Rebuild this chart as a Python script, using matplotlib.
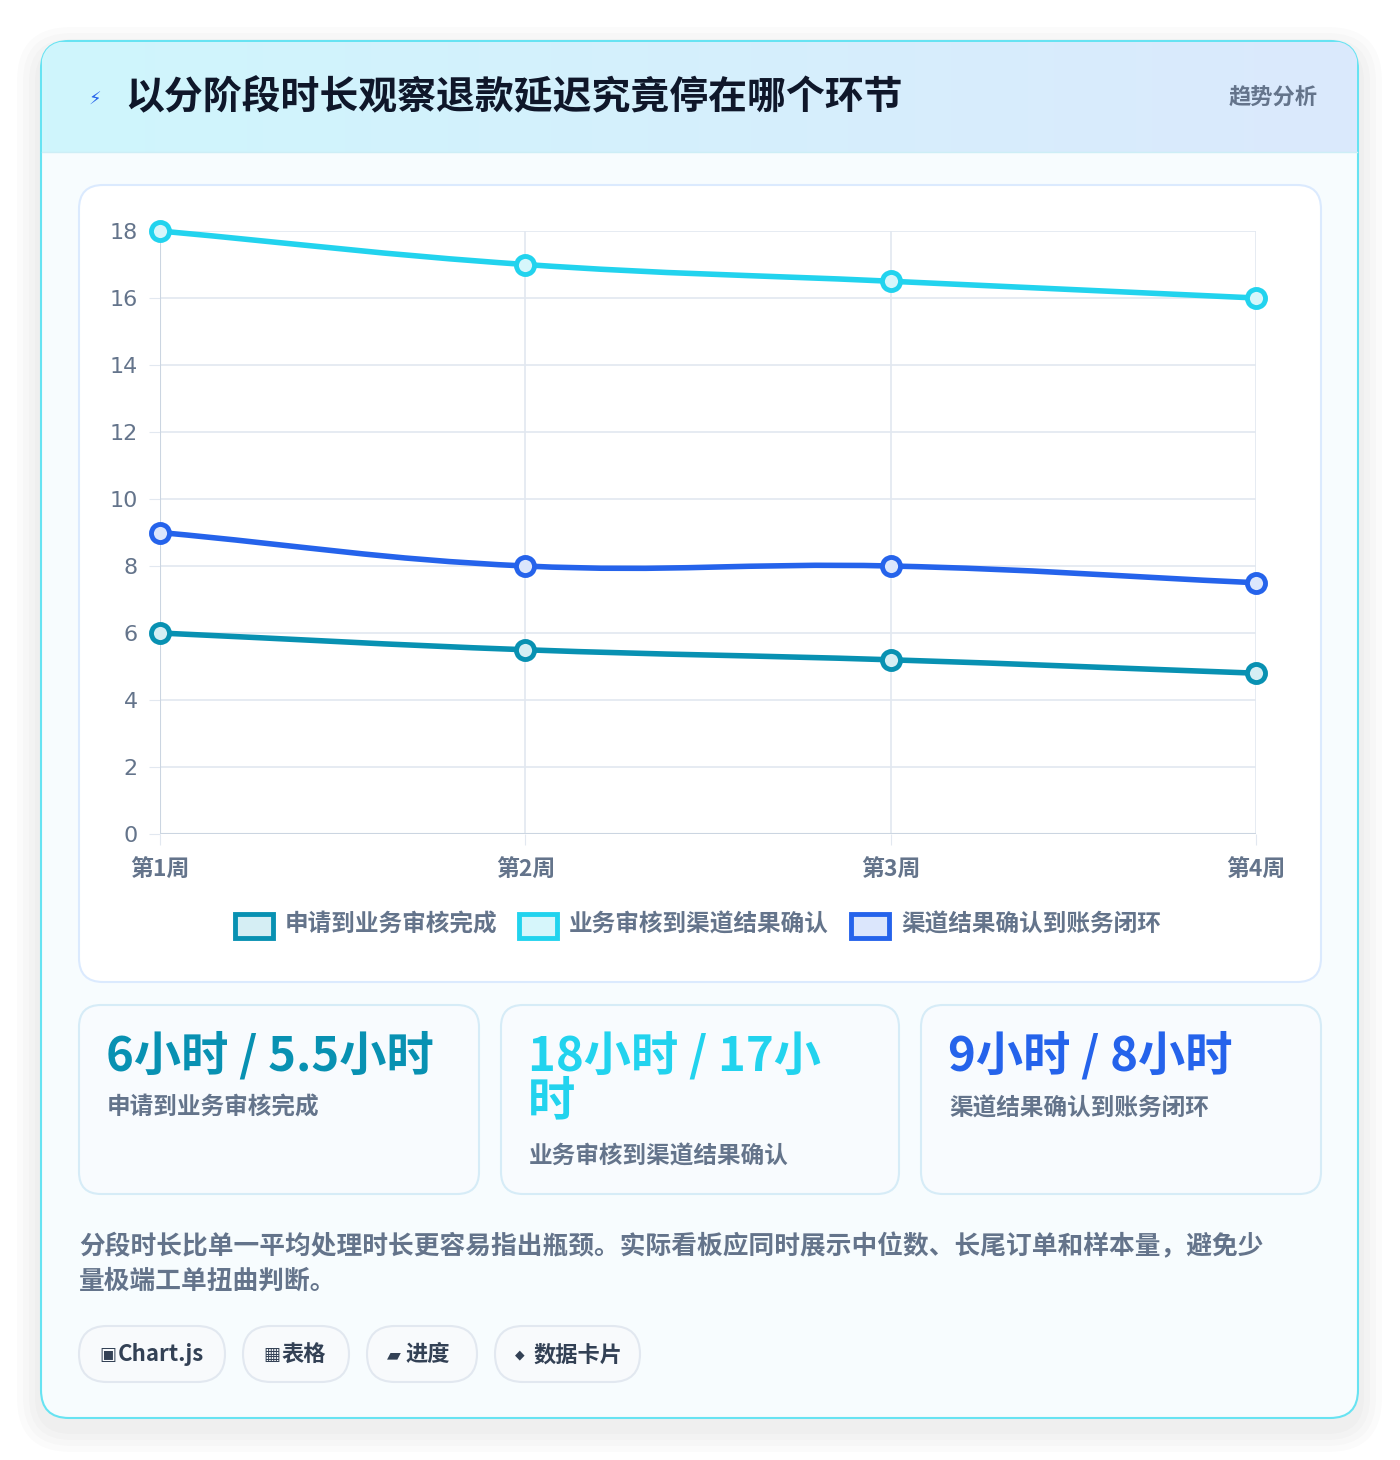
import matplotlib
matplotlib.use("Agg")
import matplotlib.pyplot as plt
from matplotlib.patches import FancyBboxPatch, Rectangle
from matplotlib.path import Path
from matplotlib.patches import PathPatch
from matplotlib.colors import LinearSegmentedColormap
import numpy as np

plt.rcParams['font.family'] = ['Noto Sans CJK SC', 'DejaVu Sans']

title = "以分阶段时长观察退款延迟究竟停在哪个环节"
badge = "趋势分析"
weeks = ["第1周", "第2周", "第3周", "第4周"]
series_names = ["申请到业务审核完成", "业务审核到渠道结果确认", "渠道结果确认到账务闭环"]
s1 = [6, 5.5, 5.2, 4.8]
s2 = [18, 17, 16.5, 16]
s3 = [9, 8, 8, 7.5]
yticks = [0, 2, 4, 6, 8, 10, 12, 14, 16, 18]
stat_values = ["6小时 / 5.5小时", "18小时 / 17小\n时", "9小时 / 8小时"]
note = "分段时长比单一平均处理时长更容易指出瓶颈。实际看板应同时展示中位数、长尾订单和样本量，避免少\n量极端工单扭曲判断。"
tag_icons = ["▣", "▦", "▰", "◆"]
tag_texts = ["Chart.js", "表格", "进度", "数据卡片"]

colors = ["#0891b2", "#22d3ee", "#2563eb"]
fills = ["#d5eef4", "#d6f6fb", "#dbe6fc"]

W, H = 1400, 1460
fig = plt.figure(figsize=(W/100, H/100), dpi=100)
fig.patch.set_facecolor("white")

def fx(x): return x / W
def fy(y): return 1 - y / H

def rbox(x0, y0, x1, y1, r, fc, ec, lw=1.5, z=1):
    p = FancyBboxPatch((fx(x0), fy(y1)), fx(x1-x0), (y1-y0)/H,
                       boxstyle=f"round,pad=0,rounding_size={r/W}",
                       transform=fig.transFigure, fc=fc, ec=ec, lw=lw, zorder=z,
                       mutation_aspect=W/H)
    fig.add_artist(p)
    return p

for i in range(4):
    d = 6 + i*6
    rbox(41-d, 41-d+10, 1358+d, 1418+d+10, 30+d, (0, 0, 0, 0.015), "none", 0, z=0)
rbox(41, 41, 1358, 1418, 28, "#f7fcfe", "#67e3f2", 1.5, z=1)
grad = np.linspace(0, 1, 256).reshape(1, -1)
cm = LinearSegmentedColormap.from_list("g", ["#cff6fc", "#dbe9fd"])
hax = fig.add_axes([fx(42), fy(152), fx(1315), 110/H], zorder=2)
hax.imshow(grad, aspect="auto", cmap=cm, extent=[0, 1, 0, 1])
hax.axis("off")
clip = FancyBboxPatch((fx(41), fy(200)), fx(1317), 159/H,
                      boxstyle=f"round,pad=0,rounding_size={28/W}",
                      transform=fig.transFigure, mutation_aspect=W/H, fc="none", ec="none")
fig.add_artist(clip)
hax.images[0].set_clip_path(clip)
fig.add_artist(plt.Line2D([fx(42), fx(1357)], [fy(152), fy(152)], color="#cdeef6", lw=1, zorder=3))

fig.text(fx(95), fy(100), "⚡", color="#2563eb", fontsize=13, ha="center", va="center", zorder=4, family=['DejaVu Sans'])
fig.text(fx(125), fy(98), title, fontsize=28, fontweight="bold", color="#0f172a", va="center", zorder=4)
fig.text(fx(1318), fy(98), badge, fontsize=16, fontweight="bold", color="#64748b", va="center", ha="right", zorder=4)

rbox(79, 185, 1321, 982, 24, "white", "#dbeafe", 1.5, z=2)

ax = fig.add_axes([fx(160), fy(834), fx(1256-160), (834-231)/H], zorder=3)
ax.set_facecolor("none")
ax.set_xlim(0, 3)
ax.set_ylim(0, 18)
ax.set_yticks(yticks)
ax.set_xticks(range(4))
ax.set_xticklabels(weeks, fontsize=16.5, fontweight="bold", color="#64748b")
ax.set_yticklabels([str(v) for v in yticks], fontsize=16, color="#64748b", family=['DejaVu Sans'])
ax.grid(True, color="#e2e8f0", lw=1.2)
for s in ax.spines.values():
    s.set_visible(False)
ax.axhline(0, color="#cbd5e1", lw=1.5)
ax.axvline(0, color="#cbd5e1", lw=1.5)
ax.tick_params(length=8, color="#e2e8f0")
ax.tick_params(axis="y", pad=8)
ax.tick_params(axis="x", pad=10)

def smooth_path(xs, ys, t=0.4):
    n = len(xs)
    verts = [(xs[0], ys[0])]
    codes = [Path.MOVETO]
    cps = []
    for i in range(n):
        p = (xs[max(i-1, 0)], ys[max(i-1, 0)])
        c = (xs[i], ys[i])
        nx = (xs[min(i+1, n-1)], ys[min(i+1, n-1)])
        d01 = np.hypot(c[0]-p[0], c[1]-p[1]); d12 = np.hypot(nx[0]-c[0], nx[1]-c[1])
        s = d01/(d01+d12) if d01+d12 else 0
        fa = t*s; fb = t*(1-s)
        prev_cp = (c[0]-fa*(nx[0]-p[0]), c[1]-fa*(nx[1]-p[1]))
        next_cp = (c[0]+fb*(nx[0]-p[0]), c[1]+fb*(nx[1]-p[1]))
        cps.append((prev_cp, next_cp))
    for i in range(1, n):
        verts += [cps[i-1][1], cps[i][0], (xs[i], ys[i])]
        codes += [Path.CURVE4]*3
    return Path(verts, codes)

xsc = (1256-160)/3; ysc = (834-231)/18
for ys, c, f in zip([s1, s2, s3], colors, fills):
    xs = np.arange(4)
    pth = smooth_path(list(xs*xsc), [v*ysc for v in ys])
    pth = Path(pth.vertices / np.array([xsc, ysc]), pth.codes)
    ax.add_patch(PathPatch(pth, fc="none", ec=c, lw=4, zorder=4, clip_on=False))
    ax.plot(xs, ys, "o", ms=13, mfc=f, mec=c, mew=3.5, zorder=5, clip_on=False)

lx = [233, 517, 849]
for x, name, c, f in zip(lx, series_names, colors, fills):
    fig.add_artist(Rectangle((fx(x+2), fy(938)), fx(38), 24/H, transform=fig.transFigure,
                             fc=f, ec=c, lw=3.5, zorder=4))
    fig.text(fx(x+52), fy(925), name, fontsize=17, fontweight="bold", color="#64748b", va="center", zorder=4)

cards = [(79, 479), (501, 899), (921, 1321)]
subs_y = [1108, 1156, 1108]
for (x0, x1), v, c, name, sy in zip(cards, stat_values, colors, series_names, subs_y):
    rbox(x0, 1005, x1, 1194, 22, "#f8fbfe", "#d6ecf7", 1.5, z=2)
    fig.text(fx(x0+27), fy(1032), v, fontsize=34, fontweight="bold", color=c, va="top", zorder=4, linespacing=0.92)
    fig.text(fx(x0+28), fy(sy), name, fontsize=17, fontweight="bold", color="#64748b", va="center", zorder=4)

fig.text(fx(79), fy(1264), note, fontsize=18.5, fontweight="bold", color="#64748b", va="center", zorder=4, linespacing=1.35)

tag_x = [(79, 225), (243, 349), (367, 477), (495, 640)]
for (x0, x1), ic, t in zip(tag_x, tag_icons, tag_texts):
    rbox(x0, 1326, x1, 1382, 28, "#f8fafc", "#e2e8f0", 1.5, z=2)
    fig.text(fx(x0+20), fy(1355), ic, fontsize=9 if ic == "◆" else 13, color="#334155",
             ha="left", va="center", zorder=4, family=['DejaVu Sans'])
    fig.text(fx(x0+39), fy(1355), t, fontsize=16, fontweight="bold", color="#334155",
             ha="left", va="center", zorder=4)

fig.savefig("out.png", dpi=100, facecolor="white")
